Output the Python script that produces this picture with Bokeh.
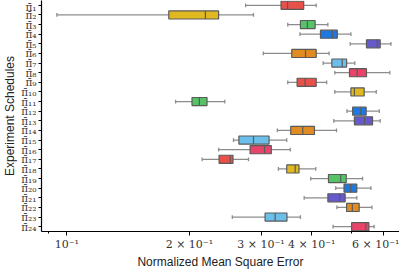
from bokeh.plotting import figure
from bokeh.models import FixedTicker, Range1d
from bokeh.embed import file_html
from bokeh.resources import INLINE

SUB = str.maketrans("0123456789", "₀₁₂₃₄₅₆₇₈₉")
schedules = ["π\u0304" + str(i).translate(SUB) for i in range(1, 25)]

whisker_low = [0.275, 0.0945, 0.349, 0.374, 0.497, 0.304, 0.4265, 0.4555, 0.349, 0.4555, 0.185, 0.488,
               0.453, 0.329, 0.2567, 0.236, 0.215, 0.331, 0.3975, 0.458, 0.383, 0.461, 0.255, 0.451]
q1 = [0.336, 0.178, 0.375, 0.420, 0.545, 0.357, 0.448, 0.495, 0.368, 0.499, 0.203, 0.504,
      0.509, 0.355, 0.2647, 0.282, 0.2366, 0.347, 0.4395, 0.480, 0.438, 0.487, 0.307, 0.501]
median = [0.3487, 0.219, 0.390, 0.449, 0.579, 0.386, 0.475, 0.517, 0.385, 0.509, 0.2116, 0.528,
          0.539, 0.380, 0.2875, 0.306, 0.252, 0.364, 0.471, 0.498, 0.468, 0.503, 0.325, 0.543]
q3 = [0.382, 0.236, 0.4075, 0.462, 0.589, 0.410, 0.487, 0.545, 0.410, 0.538, 0.221, 0.544,
      0.564, 0.406, 0.314, 0.318, 0.256, 0.372, 0.486, 0.516, 0.483, 0.523, 0.3475, 0.5525]
whisker_high = [0.410, 0.2875, 0.438, 0.499, 0.626, 0.441, 0.510, 0.622, 0.435, 0.576, 0.2444, 0.586,
                0.589, 0.460, 0.347, 0.354, 0.2795, 0.409, 0.533, 0.559, 0.516, 0.562, 0.375, 0.569]

palette = ["#E8504A", "#DFB91F", "#55C466", "#1F78E0", "#6659CC", "#E08C22", "#6BBFEA", "#E8446A"]

x_major = [0.1, 0.2, 0.3, 0.4, 0.6]
x_minor = [0.09, 0.5]
x_labels = ["10⁻¹", "2 × 10⁻¹", "3 × 10⁻¹", "4 × 10⁻¹", "6 × 10⁻¹"]

n = len(schedules)
pos = list(range(1, n + 1))
colors = [palette[i % len(palette)] for i in range(n)]

p = figure(width=399, height=271, x_axis_type="log", output_backend="svg", toolbar_location=None,
           x_range=Range1d(0.0866, 0.657), y_range=Range1d(n + 0.5, 0.5),
           min_border_left=30, min_border_right=0, min_border_top=0, min_border_bottom=30)
p.outline_line_color = None
p.xgrid.visible = False
p.ygrid.visible = False

wc = "#8c8c8c"
p.segment(x0=whisker_low, x1=q1, y0=pos, y1=pos, line_color=wc, line_width=1.3)
p.segment(x0=q3, x1=whisker_high, y0=pos, y1=pos, line_color=wc, line_width=1.3)
cap_lo = [v - 0.2 for v in pos]
cap_hi = [v + 0.2 for v in pos]
p.segment(x0=whisker_low, x1=whisker_low, y0=cap_lo, y1=cap_hi, line_color=wc, line_width=1.3)
p.segment(x0=whisker_high, x1=whisker_high, y0=cap_lo, y1=cap_hi, line_color=wc, line_width=1.3)

p.hbar(y=pos, left=q1, right=q3, height=0.84, fill_color=colors, line_color="#5a5a5a", line_width=1.2)
med_lo = [v - 0.42 for v in pos]
med_hi = [v + 0.42 for v in pos]
p.segment(x0=median, x1=median, y0=med_lo, y1=med_hi, line_color="#5a5a5a", line_width=1.2)

p.xaxis.ticker = FixedTicker(ticks=x_major, minor_ticks=x_minor)
p.xaxis.major_label_overrides = dict(zip(x_major, x_labels))
p.xaxis.major_label_text_font = "DejaVu Serif"
p.xaxis.major_label_text_font_size = "11px"
p.xaxis.major_label_text_color = "#333333"
p.xaxis.major_tick_out = 4
p.xaxis.major_tick_in = 0
p.xaxis.minor_tick_out = 2
p.xaxis.minor_tick_in = 0
p.xaxis.major_label_standoff = 2
p.xaxis.axis_label = "Normalized Mean Square Error"
p.xaxis.axis_label_text_font = "Liberation Sans"
p.xaxis.axis_label_text_font_style = "normal"
p.xaxis.axis_label_text_font_size = "12px"
p.xaxis.axis_label_text_color = "#222222"
p.xaxis.axis_label_standoff = 1
p.xaxis.axis_line_width = 1.2

p.yaxis.ticker = FixedTicker(ticks=pos, minor_ticks=[])
p.yaxis.major_label_overrides = dict(zip(pos, schedules))
p.yaxis.major_label_text_font = "DejaVu Serif"
p.yaxis.major_label_text_font_size = "10.5px"
p.yaxis.major_label_text_color = "#333333"
p.yaxis.major_tick_out = 3
p.yaxis.major_tick_in = 0
p.yaxis.major_label_standoff = 2
p.yaxis.axis_label = "Experiment Schedules"
p.yaxis.axis_label_text_font = "Liberation Sans"
p.yaxis.axis_label_text_font_style = "normal"
p.yaxis.axis_label_text_font_size = "12px"
p.yaxis.axis_label_text_color = "#222222"
p.yaxis.axis_label_standoff = 1
p.yaxis.axis_line_width = 1.2

open("out.html", "w").write(file_html(p, INLINE))
